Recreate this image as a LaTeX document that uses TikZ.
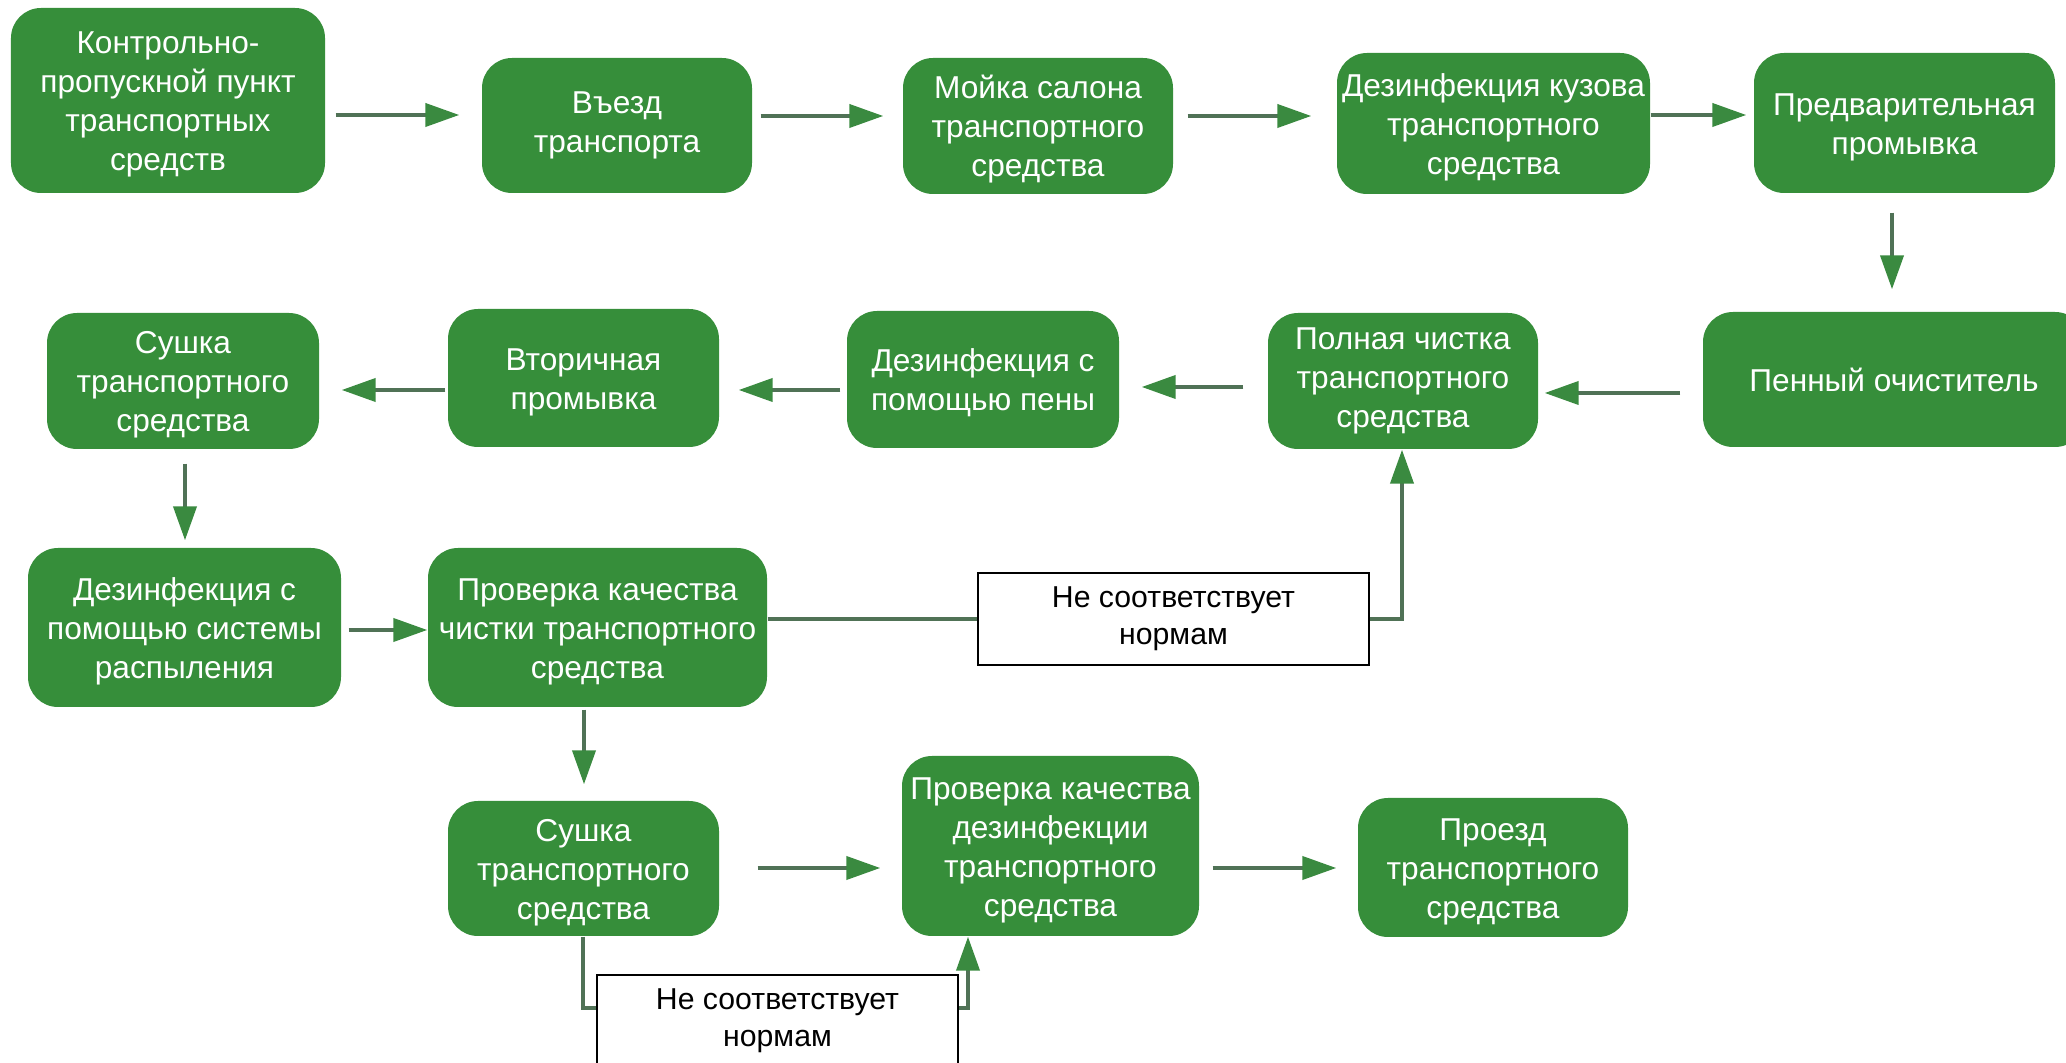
\documentclass[tikz,border=0pt]{standalone}
\usepackage{fontspec}
\setmainfont{Liberation Sans}
\usetikzlibrary{arrows.meta}
\definecolor{boxgreen}{RGB}{54,142,58}
\definecolor{linecol}{RGB}{80,114,86}
\definecolor{headcol}{RGB}{58,138,64}
\newcommand\topst{\rule{0pt}{8.6pt}}
\tikzset{
  gbox/.style={draw=none, fill=boxgreen, rounded corners=0.3cm, text=white, align=center,
    inner sep=0pt, font=\fontsize{9}{11.1}\selectfont},
  lbox/.style={draw=black, line width=0.8pt, fill=white, align=center, inner sep=0pt,
    font=\fontsize{8.6}{10.4}\selectfont},
  conn/.style={draw=linecol, line width=1.15pt},
  arr/.style={conn, -{Triangle[length=3.4mm, width=2.3mm, color=headcol, fill=headcol]}}
}
\begin{document}
\begin{tikzpicture}
\useasboundingbox (0,0) rectangle (20.66,-10.63);
\clip (0,0) rectangle (20.66,-10.63);
% row 1
\node[gbox, minimum width=3.14cm, minimum height=1.85cm] (b1) at (1.68,-1.005) {\topst Контрольно-\\пропускной пункт\\транспортных\\средств};
\node[gbox, minimum width=2.70cm, minimum height=1.35cm] (b2) at (6.17,-1.255) {Въезд\\транспорта};
\node[gbox, minimum width=2.70cm, minimum height=1.36cm] (b3) at (10.38,-1.26) {\topst Мойка салона\\транспортного\\средства};
\node[gbox, minimum width=3.13cm, minimum height=1.41cm] (b4) at (14.935,-1.235) {\topst Дезинфекция кузова\\транспортного\\средства};
\node[gbox, minimum width=3.01cm, minimum height=1.40cm] (b5) at (19.045,-1.23) {\topst Предварительная\\промывка};
% row 2
\node[gbox, minimum width=3.82cm, minimum height=1.35cm] (b6) at (18.94,-3.795) {Пенный очиститель};
\node[gbox, minimum width=2.70cm, minimum height=1.36cm] (b7) at (14.03,-3.81) {Полная чистка\\транспортного\\средства};
\node[gbox, minimum width=2.72cm, minimum height=1.37cm] (b8) at (9.83,-3.795) {\topst Дезинфекция с\\помощью пены};
\node[gbox, minimum width=2.71cm, minimum height=1.38cm] (b9) at (5.835,-3.78) {\topst Вторичная\\промывка};
\node[gbox, minimum width=2.72cm, minimum height=1.36cm] (b10) at (1.83,-3.81) {\topst Сушка\\транспортного\\средства};
% row 3
\node[gbox, minimum width=3.13cm, minimum height=1.59cm] (b11) at (1.845,-6.275) {\topst Дезинфекция с\\помощью системы\\распыления};
\node[gbox, minimum width=3.39cm, minimum height=1.59cm] (b12) at (5.975,-6.275) {\topst Проверка качества\\чистки транспортного\\средства};
\node[lbox, minimum width=3.91cm, minimum height=0.92cm] (l1) at (11.735,-6.19) {Не соответствует\\нормам};
% row 4
\node[gbox, minimum width=2.71cm, minimum height=1.35cm] (b13) at (5.835,-8.685) {\topst Сушка\\транспортного\\средства};
\node[gbox, minimum width=2.97cm, minimum height=1.80cm] (b14) at (10.505,-8.46) {\topst Проверка качества\\дезинфекции\\транспортного\\средства};
\node[gbox, minimum width=2.70cm, minimum height=1.39cm] (b15) at (14.93,-8.675) {\topst Проезд\\транспортного\\средства};
\node[lbox, minimum width=3.61cm, minimum height=0.91cm] (l2) at (7.775,-10.205) {Не соответствует\\нормам};
% connectors row 1
\draw[arr, shorten <=0.10cm, shorten >=0.22cm] (b1.east |- 0,-1.15) -- (b2.west |- 0,-1.15);
\draw[arr, shorten <=0.08cm, shorten >=0.19cm] (b2.east |- 0,-1.16) -- (b3.west |- 0,-1.16);
\draw[arr, shorten <=0.14cm, shorten >=0.25cm] (b3.east |- 0,-1.16) -- (b4.west |- 0,-1.16);
\draw[arr, shorten >=0.07cm] (b4.east |- 0,-1.15) -- (b5.west |- 0,-1.15);
\draw[arr, shorten <=0.19cm, shorten >=0.22cm] (b5.south -| 18.92,0) -- (b6.north -| 18.92,0);
% row 2
\draw[arr, shorten <=0.22cm, shorten >=0.06cm] (b6.west |- 0,-3.93) -- (b7.east |- 0,-3.93);
\draw[arr, shorten <=0.24cm, shorten >=0.22cm] (b7.west |- 0,-3.87) -- (b8.east |- 0,-3.87);
\draw[arr, shorten <=0.06cm, shorten >=0.19cm] (b8.west |- 0,-3.90) -- (b9.east |- 0,-3.90);
\draw[arr, shorten <=0.02cm, shorten >=0.22cm] (b9.west |- 0,-3.90) -- (b10.east |- 0,-3.90);
\draw[arr, shorten <=0.14cm, shorten >=0.07cm] (b10.south -| 1.85,0) -- (b11.north -| 1.85,0);
% row 3
\draw[arr, shorten <=0.07cm] (b11.east |- 0,-6.30) -- (b12.west |- 0,-6.30);
\draw[arr, shorten <=0.02cm, shorten >=0.16cm] (b12.south -| 5.84,0) -- (b13.north -| 5.84,0);
\draw[conn] (b12.east |- l1.west) -- (l1.west);
\draw[arr] (l1.east) -| (b7.south -| 14.02,0);
% row 4
\draw[arr, shorten <=0.38cm, shorten >=0.21cm] (b13.east |- 0,-8.68) -- (b14.west |- 0,-8.68);
\draw[arr, shorten <=0.13cm, shorten >=0.21cm] (b14.east |- 0,-8.68) -- (b15.west |- 0,-8.68);
\draw[conn] (b13.south -| 5.83,0) |- (l2.west |- 0,-10.08);
\draw[arr] (l2.east |- 0,-10.08) -| (b14.south -| 9.68,0);
\end{tikzpicture}
\end{document}
